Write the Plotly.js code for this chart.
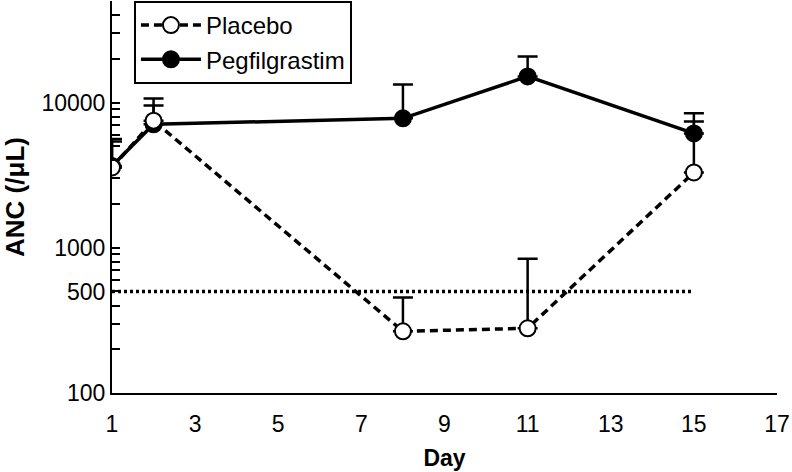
<!DOCTYPE html>
<html>
<head>
<meta charset="utf-8">
<script src="https://cdn.plot.ly/plotly-3.0.1.min.js"></script>
<style>html,body{margin:0;padding:0;background:#fff;}#chart{width:792px;height:472px;}</style>
</head>
<body>
<div id="chart"></div>
<script>
// Data
var days = [1, 2, 8, 11, 15];
var placeboMean = [3570, 7500, 266, 279, 3300];
var placeboUpper = [5400, 9530, 455, 841, 7400];
var pegMean = [3650, 7080, 7780, 15130, 6130];
var pegUpper = [5600, 10650, 13300, 20750, 8440];
var thresholdDays = [1, 15];
var thresholdValue = [500, 500];
var yTickVals = [100,200,300,400,500,600,700,800,900,1000,2000,3000,4000,5000,6000,7000,8000,9000,10000,20000,30000,40000,50000];
var yLabelled = [100, 500, 1000, 10000];
var xTickVals = [1, 3, 5, 7, 9, 11, 13, 15, 17];

function plus(upper, mean) { return upper.map(function (u, i) { return u - mean[i]; }); }
var yTickText = yTickVals.map(function (v) { return yLabelled.indexOf(v) >= 0 ? String(v) : ''; });

var FONT = 'Liberation Sans, Arial, Helvetica, sans-serif';

var traces = [
  {
    x: thresholdDays, y: thresholdValue, type: 'scatter', mode: 'lines',
    line: {color: '#000', width: 3.5, dash: '3px,3px'},
    showlegend: false, hoverinfo: 'skip'
  },
  {
    name: 'Pegfilgrastim', x: days, y: pegMean, type: 'scatter', mode: 'lines+markers',
    legendrank: 2,
    line: {color: '#000', width: 3.5},
    marker: {symbol: 'circle', size: 16, color: '#000', line: {color: '#000', width: 2}},
    error_y: {type: 'data', symmetric: false, array: plus(pegUpper, pegMean),
              arrayminus: days.map(function () { return 0; }), color: '#000', thickness: 2.5, width: 10}
  },
  {
    name: 'Placebo', x: days, y: placeboMean, type: 'scatter', mode: 'lines+markers',
    legendrank: 1,
    line: {color: '#000', width: 3.5, dash: '8px,5px'},
    marker: {symbol: 'circle', size: 16, color: '#fff', line: {color: '#000', width: 2}},
    error_y: {type: 'data', symmetric: false, array: plus(placeboUpper, placeboMean),
              arrayminus: days.map(function () { return 0; }), color: '#000', thickness: 2.5, width: 10}
  }
];

var layout = {
  width: 792, height: 472,
  margin: {l: 112, r: 15, t: 1, b: 79, pad: 0},
  paper_bgcolor: '#fff', plot_bgcolor: '#fff',
  font: {family: FONT, color: '#000', size: 22},
  showlegend: true,
  legend: {
    x: 0.033, y: 1, xanchor: 'left', yanchor: 'top',
    bgcolor: '#fff', bordercolor: '#000', borderwidth: 2,
    font: {family: FONT, size: 24, color: '#000'},
    traceorder: 'normal', itemwidth: 60
  },
  xaxis: {
    range: [1, 17], tickmode: 'array', tickvals: xTickVals,
    ticks: '', showgrid: false, zeroline: false,
    showline: true, linecolor: '#000', linewidth: 2,
    ticklabelstandoff: 9,
    tickfont: {family: FONT, size: 23, color: '#000'},
    title: {text: '<b>Day</b>', font: {family: FONT, size: 23, color: '#000'}, standoff: 14}
  },
  yaxis: {
    type: 'log', range: [2, Math.log10(50000)],
    tickmode: 'array', tickvals: yTickVals, ticktext: yTickText,
    ticks: 'inside', ticklen: 8, tickwidth: 2, tickcolor: '#000',
    showgrid: false, zeroline: false,
    showline: true, linecolor: '#000', linewidth: 2,
    tickfont: {family: FONT, size: 23, color: '#000'},
    title: {text: '<b>ANC (/μL)</b>', font: {family: FONT, size: 26, color: '#000'}, standoff: 12}
  }
};

Plotly.newPlot('chart', traces, layout, {displayModeBar: false, staticPlot: true});
</script>
</body>
</html>
